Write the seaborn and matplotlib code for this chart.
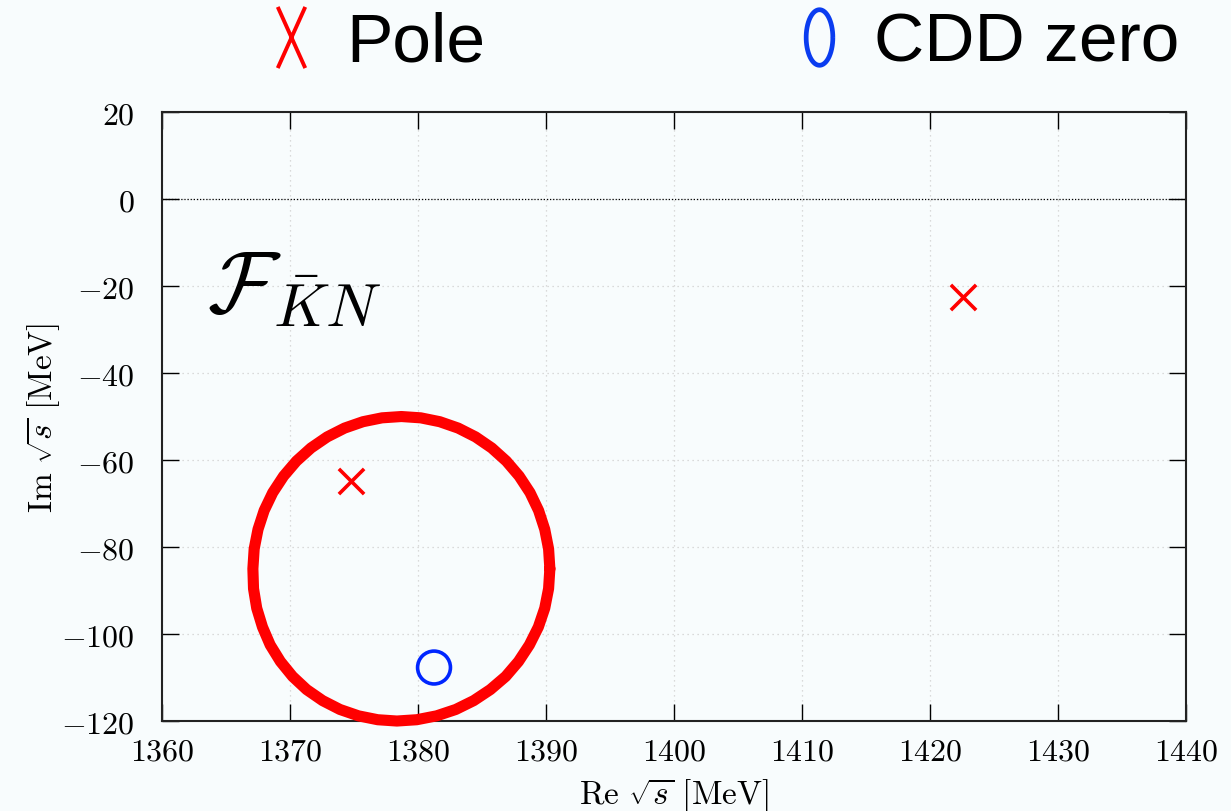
import numpy as np
import pandas as pd
import seaborn as sns
import matplotlib.pyplot as plt
from matplotlib.lines import Line2D
from matplotlib.path import Path

ring_re = [1390.30, 1390.20, 1389.90, 1389.42, 1388.75, 1387.90, 1386.90, 1385.76,
           1384.50, 1383.14, 1381.70, 1380.21, 1378.70, 1377.19, 1375.70, 1374.26,
           1372.90, 1371.64, 1370.50, 1369.50, 1368.65, 1367.98, 1367.50, 1367.20,
           1367.10, 1367.15, 1367.40, 1367.85, 1368.45, 1369.25, 1370.20, 1371.30,
           1372.55, 1373.90, 1375.35, 1376.85, 1378.35, 1379.90, 1381.45, 1382.95,
           1384.35, 1385.65, 1386.85, 1387.85, 1388.70, 1389.40, 1389.90, 1390.20,
           1390.30]
ring_im = [-85.00, -80.43, -75.94, -71.61, -67.50, -63.69, -60.25, -57.23,
           -54.69, -52.66, -51.19, -50.30, -50.00, -50.30, -51.19, -52.66,
           -54.69, -57.23, -60.25, -63.69, -67.50, -71.61, -75.94, -80.43,
           -85.00, -89.57, -94.06, -98.39, -102.50, -106.31, -109.75, -112.77,
           -115.31, -117.34, -118.81, -119.70, -120.00, -119.70, -118.81, -117.34,
           -115.31, -112.77, -109.75, -106.31, -102.50, -98.39, -94.06, -89.57,
           -85.00]

pole_re = [1374.8, 1422.6]
pole_im = [-64.8, -22.6]

cdd_re = [1381.25]
cdd_im = [-107.7]

x_ticks = [1360, 1370, 1380, 1390, 1400, 1410, 1420, 1430, 1440]
y_ticks = [20, 0, -20, -40, -60, -80, -100, -120]

bg = "#f8fcfd"

sns.set_style("ticks")
plt.rcParams["mathtext.fontset"] = "cm"
plt.rcParams["font.family"] = ["Liberation Sans", "DejaVu Sans"]
plt.rcParams["text.color"] = "black"
plt.rcParams["axes.labelcolor"] = "black"

fig = plt.figure(figsize=(12.31, 8.12), dpi=100, facecolor=bg)
ax = fig.add_axes([0.1316, 0.1108, 0.8319, 0.75])
ax.set_facecolor(bg)

ring = pd.DataFrame({"re": ring_re, "im": ring_im})
sns.lineplot(data=ring, x="re", y="im", sort=False, estimator=None,
             color="#ff0000", linewidth=8, ax=ax, zorder=3, clip_on=False,
             solid_joinstyle="round")

ax.axhline(0, color="black", linestyle=(0, (1, 1.5)), linewidth=0.9, zorder=2)

sns.scatterplot(x=pole_re, y=pole_im, marker="x", s=330, color="#ff0000",
                linewidth=2.6, ax=ax, zorder=5)
sns.scatterplot(x=cdd_re, y=cdd_im, marker="o", s=560, facecolor="none",
                edgecolor="#0026ff", linewidth=2.6, ax=ax, zorder=5)

ax.set_xlim(1360, 1440)
ax.set_ylim(-120, 20)
ax.set_xticks(x_ticks)
ax.set_yticks(y_ticks)
ax.set_xticklabels([f"${v}$" for v in x_ticks])
ax.set_yticklabels([f"${v}$" for v in y_ticks])
ax.tick_params(direction="in", length=12, width=1.0, labelsize=23,
               top=True, right=True, colors="black")
ax.tick_params(axis="x", pad=11)
ax.tick_params(axis="y", pad=20)
ax.grid(True, color="#cfcfcf", linestyle=(0, (1, 3)), linewidth=0.9)
for sp in ax.spines.values():
    sp.set_linewidth(1.5)
    sp.set_color("#222222")

ax.set_xlabel(r"$\mathrm{Re}\ \sqrt{s}\ [\mathrm{MeV}]$", fontsize=24, labelpad=6)
ax.set_ylabel(r"$\mathrm{Im}\ \sqrt{s}\ [\mathrm{MeV}]$", fontsize=24, labelpad=-1)

ax.text(1363.5, -20.5, r"$\mathcal{F}_{\bar{K}N}$", fontsize=63, ha="left", va="center")

# tall legend glyphs, as in the original
tall_x = Path([(-0.45, -1), (0.45, 1), (-0.45, 1), (0.45, -1)],
              [Path.MOVETO, Path.LINETO, Path.MOVETO, Path.LINETO])
t = np.linspace(0, 2 * np.pi, 60)
tall_o = Path(np.column_stack([0.48 * np.cos(t), np.sin(t)]))
handles = [
    Line2D([], [], linestyle="none", marker=tall_x, markersize=44,
           markeredgecolor="#ff0000", markerfacecolor="none", markeredgewidth=2.8),
    Line2D([], [], linestyle="none", marker=tall_o, markersize=40,
           markeredgecolor="#0a3cf0", markerfacecolor="none", markeredgewidth=3.4),
]
fig.legend(handles, ["Pole", "CDD zero"], loc="center", bbox_to_anchor=(0.586, 0.946),
           ncol=2, frameon=False, fontsize=50, handlelength=0.8, handletextpad=0.4,
           columnspacing=4.4)

fig.savefig("out.png", dpi=100, facecolor=bg)
